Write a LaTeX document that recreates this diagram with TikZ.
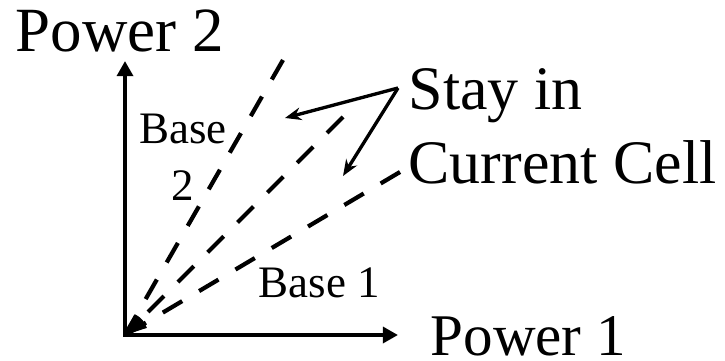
\documentclass[tikz,border=0pt]{standalone}
\usepackage{fontspec}
\setmainfont{Liberation Serif}
\usetikzlibrary{arrows.meta}

\begin{document}
\begin{tikzpicture}[x=0.01cm, y=-0.01cm,
  axis/.style={line width=1.3pt, line join=miter,
               {Triangle[length=4.3pt, width=4.5pt]}-{Triangle[length=4.3pt, width=4.5pt]}},
  boundary/.style={line width=1.2pt, dash pattern=on 6.4pt off 5.6pt},
  pointer/.style={line width=0.95pt, -{Stealth[length=4.6pt, width=3.6pt]}},
  txt/.style={inner sep=0pt, anchor=base west},
]
  \useasboundingbox (0,0) rectangle (725,361);

  % axes
  \coordinate (o) at (125,335);
  \coordinate (ytip) at (125,61);
  \coordinate (xtip) at (398,335);
  \draw[axis] (ytip) -- (o) -- (xtip);

  % cell boundaries, drawn from the outer end in
  \coordinate (b2end) at (283,60);
  \coordinate (midend) at (343,117);
  \coordinate (b1end) at (400,172);
  \draw[boundary] (b2end) -- (o);
  \draw[boundary] (midend) -- (o);
  \draw[boundary] (b1end) -- (o);
  \fill (o) -- ++(-18:23) arc[start angle=-18, end angle=-65, radius=23] -- cycle;

  % labels
  \node[txt, font=\fontsize{17.9}{20}\selectfont] (power2) at (15,52) {Power 2};
  \node[txt, font=\fontsize{16.8}{20}\selectfont] (power1) at (430,355) {Power 1};
  \node[inner sep=0pt, anchor=base, align=center, font=\fontsize{12.8}{16.2}\selectfont] (base2) at (183,200) {Base\\2};
  \node[txt, font=\fontsize{12.8}{15}\selectfont] (base1) at (258,297) {Base 1};
  \node[txt, align=left, font=\fontsize{17.6}{20.8}\selectfont] (stay) at (408,183) {Stay in\\Current Cell};

  % pointers into the cell
  \coordinate (apex) at (398,88);
  \coordinate (tipA) at (285,118);
  \coordinate (tipB) at (343,176);
  \draw[pointer] (apex) -- (tipA);
  \draw[pointer] (apex) -- (tipB);
\end{tikzpicture}
\end{document}
